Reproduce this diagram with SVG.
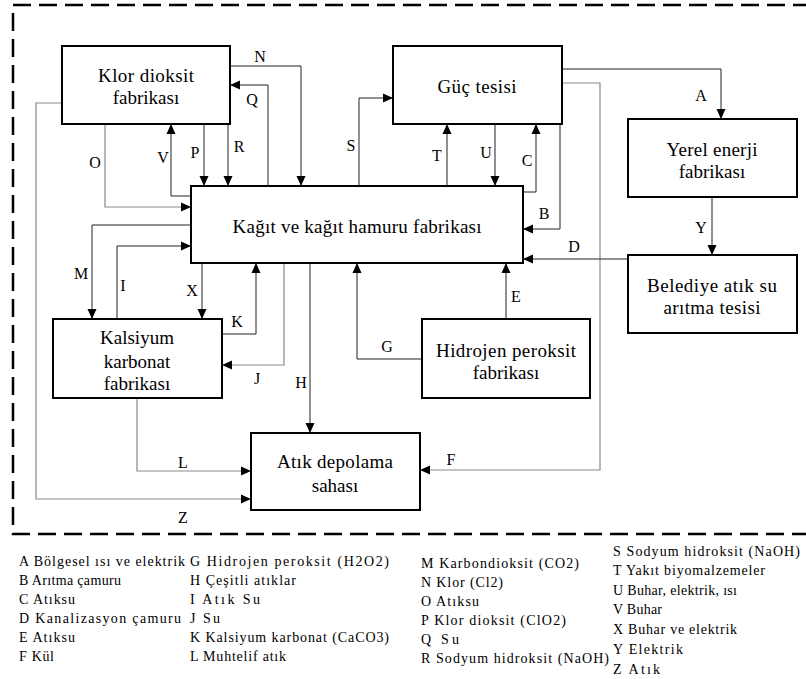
<svg xmlns="http://www.w3.org/2000/svg" width="806" height="679" viewBox="0 0 806 679">
  <style>
    text { font-family: 'Liberation Serif', 'Times New Roman', 'DejaVu Serif', serif; fill: #000000; }
    .box { fill: #ffffff; stroke: #000000; stroke-width: 2; }
    .nt { font-size: 19px; text-anchor: middle; }
    .lbl { font-size: 16px; text-anchor: middle; }
    .lg { font-size: 14px; }
    .c { fill: none; stroke: #222222; stroke-width: 1; marker-end: url(#arr); }
    .cg { fill: none; stroke: #8a8a8a; stroke-width: 1.2; marker-end: url(#arr); }
    .frame { fill: none; stroke: #000000; stroke-width: 2.5; stroke-dasharray: 18 8; }
  </style>
  <defs>
    <marker id="arr" markerUnits="userSpaceOnUse" markerWidth="10" markerHeight="10" refX="10" refY="5" orient="auto">
      <path d="M0,0.5 L10,5 L0,9.5 z" fill="#000000"/>
    </marker>
  </defs>

  <rect width="806" height="679" fill="#ffffff"/>

  <!-- system boundary (right side runs past the page edge) -->
  <rect class="frame" x="13" y="5" width="810" height="529"/>

  <!-- connectors -->
  <g id="connectors">
    <polyline class="c" points="230,66 301,66 301,186"/>
    <polyline class="c" points="268,186 268,85 230,85"/>
    <polyline class="c" points="204,124 204,186"/>
    <polyline class="c" points="228,124 228,186"/>
    <polyline class="c" points="191,196 171,196 171,124"/>
    <polyline class="cg" points="105,124 105,207 191,207"/>
    <polyline class="cg" points="62,103 36,103 36,499 251,499"/>
    <polyline class="c" points="359,186 359,98 393,98"/>
    <polyline class="c" points="562,69 721,69 721,119"/>
    <polyline class="cg" points="562,83 600,83 600,470 420,470"/>
    <polyline class="c" points="447,186 447,124"/>
    <polyline class="c" points="495,124 495,186"/>
    <polyline class="c" points="523,192 536,192 536,124"/>
    <polyline class="c" points="560,124 560,229 523,229"/>
    <polyline class="c" points="712,197 712,255"/>
    <polyline class="c" points="628,259 523,259"/>
    <polyline class="c" points="191,225 92,225 92,319"/>
    <polyline class="c" points="117,319 117,246 191,246"/>
    <polyline class="c" points="202,263 202,319"/>
    <polyline class="c" points="222,334 256,334 256,263"/>
    <polyline class="cg" points="284,263 284,365 222,365"/>
    <polyline class="c" points="310,263 310,433"/>
    <polyline class="c" points="422,359 357,359 357,263"/>
    <polyline class="c" points="506,319 506,263"/>
    <polyline class="cg" points="137,398 137,471 251,471"/>

    <g id="flow-labels">
      <text class="lbl" x="260" y="62">N</text>
      <text class="lbl" x="252" y="105">Q</text>
      <text class="lbl" x="195" y="158">P</text>
      <text class="lbl" x="239" y="152">R</text>
      <text class="lbl" x="163" y="163">V</text>
      <text class="lbl" x="95" y="168">O</text>
      <text class="lbl" x="351" y="151">S</text>
      <text class="lbl" x="701" y="101">A</text>
      <text class="lbl" x="437" y="161">T</text>
      <text class="lbl" x="486" y="158">U</text>
      <text class="lbl" x="527" y="166">C</text>
      <text class="lbl" x="544" y="219">B</text>
      <text class="lbl" x="701" y="233">Y</text>
      <text class="lbl" x="574" y="252">D</text>
      <text class="lbl" x="516" y="302">E</text>
      <text class="lbl" x="387" y="352">G</text>
      <text class="lbl" x="81" y="279">M</text>
      <text class="lbl" x="123" y="291">I</text>
      <text class="lbl" x="192" y="296">X</text>
      <text class="lbl" x="237" y="327">K</text>
      <text class="lbl" x="257" y="384">J</text>
      <text class="lbl" x="301" y="388">H</text>
      <text class="lbl" x="183" y="468">L</text>
      <text class="lbl" x="183" y="523">Z</text>
      <text class="lbl" x="451" y="465">F</text>
    </g>
  </g>

  <!-- nodes -->
  <g id="klor-dioksit">
    <rect class="box" x="62" y="46" width="168" height="78"/>
    <text class="nt" x="146" y="82" textLength="96" lengthAdjust="spacing">Klor dioksit</text>
    <text class="nt" x="146" y="104">fabrikası</text>
  </g>
  <g id="guc-tesisi">
    <rect class="box" x="393" y="46" width="169" height="78"/>
    <text class="nt" x="477" y="93" textLength="79" lengthAdjust="spacing">Güç tesisi</text>
  </g>
  <g id="yerel-enerji">
    <rect class="box" x="628" y="119" width="169" height="78"/>
    <text class="nt" x="712" y="156" textLength="91" lengthAdjust="spacing">Yerel enerji</text>
    <text class="nt" x="712" y="178">fabrikası</text>
  </g>
  <g id="kagit-hamuru">
    <rect class="box" x="191" y="186" width="332" height="77"/>
    <text class="nt" x="357" y="233" textLength="249" lengthAdjust="spacing">Kağıt ve kağıt hamuru fabrikası</text>
  </g>
  <g id="belediye">
    <rect class="box" x="628" y="255" width="169" height="78"/>
    <text class="nt" x="712" y="292" textLength="130" lengthAdjust="spacing">Belediye atık su</text>
    <text class="nt" x="712" y="314" textLength="97" lengthAdjust="spacing">arıtma tesisi</text>
  </g>
  <g id="kalsiyum-karbonat">
    <rect class="box" x="53" y="319" width="169" height="79"/>
    <text class="nt" x="137" y="344">Kalsiyum</text>
    <text class="nt" x="137" y="368">karbonat</text>
    <text class="nt" x="137" y="390">fabrikası</text>
  </g>
  <g id="hidrojen-peroksit">
    <rect class="box" x="422" y="319" width="168" height="79"/>
    <text class="nt" x="506" y="357" textLength="140" lengthAdjust="spacing">Hidrojen peroksit</text>
    <text class="nt" x="506" y="379">fabrikası</text>
  </g>
  <g id="atik-depolama">
    <rect class="box" x="251" y="433" width="169" height="77"/>
    <text class="nt" x="335" y="468" textLength="116" lengthAdjust="spacing">Atık depolama</text>
    <text class="nt" x="335" y="492">sahası</text>
  </g>

  <!-- key -->
  <g id="legend">
    <text class="lg" x="19" y="566" textLength="166" lengthAdjust="spacing">A Bölgesel ısı ve elektrik</text>
    <text class="lg" x="19" y="585" textLength="102" lengthAdjust="spacing">B Arıtma çamuru</text>
    <text class="lg" x="19" y="604" textLength="56" lengthAdjust="spacing">C Atıksu</text>
    <text class="lg" x="19" y="623" textLength="162" lengthAdjust="spacing">D Kanalizasyon çamuru</text>
    <text class="lg" x="19" y="642" textLength="56" lengthAdjust="spacing">E Atıksu</text>
    <text class="lg" x="19" y="661" textLength="35" lengthAdjust="spacing">F Kül</text>

    <text class="lg" x="190" y="566" textLength="199" lengthAdjust="spacing">G Hidrojen peroksit (H2O2)</text>
    <text class="lg" x="190" y="585" textLength="106" lengthAdjust="spacing">H Çeşitli atıklar</text>
    <text class="lg" x="190" y="604" textLength="70" lengthAdjust="spacing">I Atık Su</text>
    <text class="lg" x="190" y="623" textLength="30" lengthAdjust="spacing">J Su</text>
    <text class="lg" x="190" y="642" textLength="199" lengthAdjust="spacing">K Kalsiyum karbonat (CaCO3)</text>
    <text class="lg" x="190" y="661" textLength="96" lengthAdjust="spacing">L Muhtelif atık</text>

    <text class="lg" x="421" y="568" textLength="158" lengthAdjust="spacing">M Karbondioksit (CO2)</text>
    <text class="lg" x="421" y="587" textLength="82" lengthAdjust="spacing">N Klor (Cl2)</text>
    <text class="lg" x="421" y="606" textLength="58" lengthAdjust="spacing">O Atıksu</text>
    <text class="lg" x="421" y="625" textLength="145" lengthAdjust="spacing">P Klor dioksit (ClO2)</text>
    <text class="lg" x="421" y="644" textLength="38" lengthAdjust="spacing">Q Su</text>
    <text class="lg" x="421" y="663" textLength="188" lengthAdjust="spacing">R Sodyum hidroksit (NaOH)</text>

    <text class="lg" x="613" y="556" textLength="187" lengthAdjust="spacing">S Sodyum hidroksit (NaOH)</text>
    <text class="lg" x="613" y="575" textLength="152" lengthAdjust="spacing">T Yakıt biyomalzemeler</text>
    <text class="lg" x="613" y="595" textLength="124" lengthAdjust="spacing">U Buhar, elektrik, ısı</text>
    <text class="lg" x="613" y="614" textLength="49" lengthAdjust="spacing">V Buhar</text>
    <text class="lg" x="613" y="634" textLength="124" lengthAdjust="spacing">X Buhar ve elektrik</text>
    <text class="lg" x="613" y="654" textLength="70" lengthAdjust="spacing">Y Elektrik</text>
    <text class="lg" x="613" y="674" textLength="47" lengthAdjust="spacing">Z Atık</text>
  </g>
</svg>
